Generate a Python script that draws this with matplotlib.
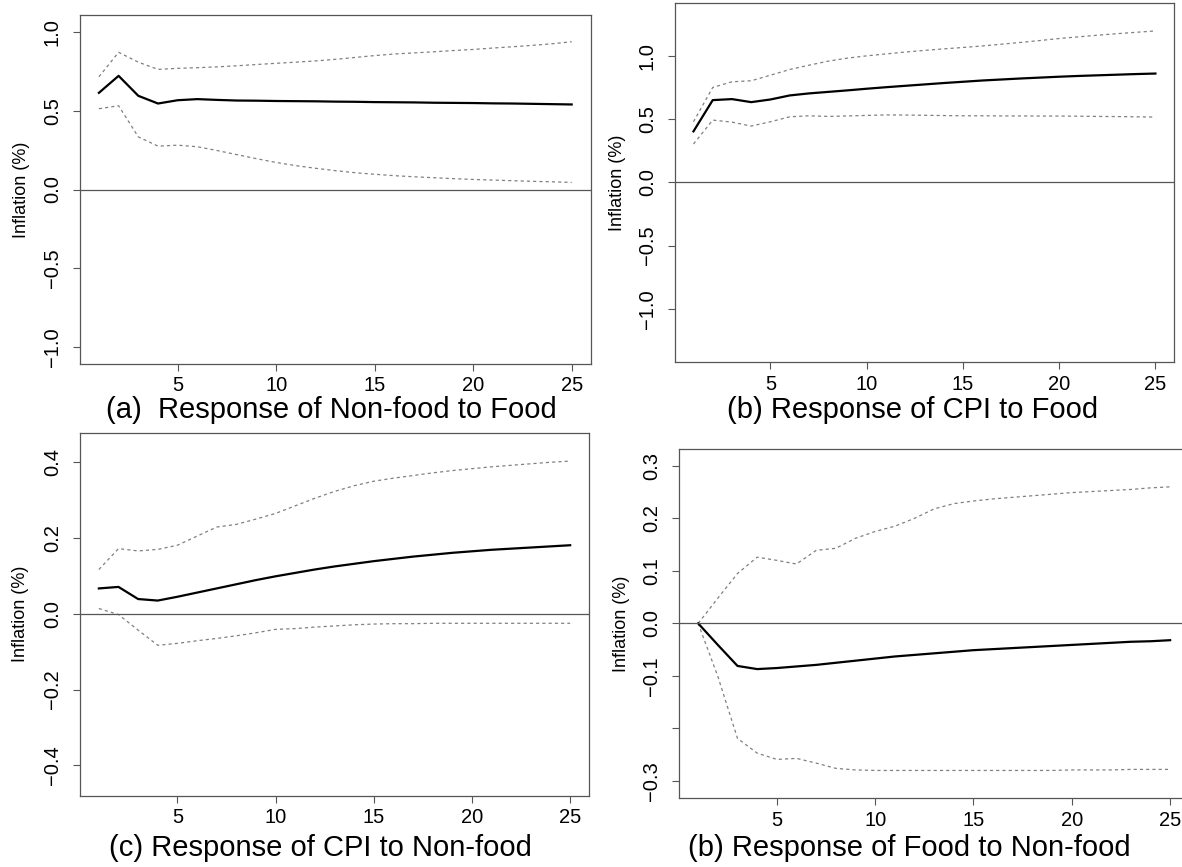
import matplotlib
matplotlib.use("Agg")
from matplotlib import pyplot as plt

plt.rcParams["font.family"] = ["Liberation Sans", "DejaVu Sans"]

W, H = 1182, 867
FRAME = "#555555"
BAND = "#808080"

horizon = list(range(1, 26))

a_mid = [0.615, 0.723, 0.596, 0.547, 0.568, 0.575, 0.570, 0.566, 0.565, 0.563, 0.562, 0.561, 0.559,
         0.558, 0.556, 0.555, 0.554, 0.552, 0.551, 0.550, 0.548, 0.547, 0.545, 0.543, 0.541]
a_hi = [0.717, 0.873, 0.810, 0.764, 0.771, 0.775, 0.780, 0.787, 0.795, 0.803, 0.810, 0.818, 0.828,
        0.840, 0.852, 0.862, 0.869, 0.876, 0.884, 0.891, 0.900, 0.908, 0.917, 0.927, 0.940]
a_lo = [0.514, 0.533, 0.335, 0.276, 0.282, 0.272, 0.248, 0.222, 0.196, 0.172, 0.152, 0.135, 0.120,
        0.107, 0.097, 0.088, 0.081, 0.075, 0.069, 0.064, 0.060, 0.056, 0.052, 0.049, 0.045]

b_mid = [0.403, 0.650, 0.658, 0.634, 0.655, 0.687, 0.703, 0.715, 0.727, 0.740, 0.752, 0.763, 0.774,
         0.785, 0.795, 0.805, 0.813, 0.821, 0.828, 0.835, 0.841, 0.846, 0.851, 0.856, 0.860]
b_hi = [0.479, 0.750, 0.795, 0.803, 0.847, 0.892, 0.926, 0.958, 0.982, 1.000, 1.015, 1.030, 1.043,
        1.055, 1.066, 1.078, 1.092, 1.106, 1.121, 1.137, 1.150, 1.163, 1.175, 1.186, 1.197]
b_lo = [0.303, 0.492, 0.476, 0.445, 0.479, 0.518, 0.526, 0.521, 0.525, 0.529, 0.533, 0.532, 0.530,
        0.528, 0.526, 0.526, 0.525, 0.525, 0.524, 0.524, 0.523, 0.521, 0.520, 0.518, 0.516]

c_mid = [0.067, 0.071, 0.039, 0.035, 0.045, 0.056, 0.067, 0.078, 0.089, 0.099, 0.108, 0.117, 0.125,
         0.132, 0.139, 0.145, 0.151, 0.156, 0.161, 0.165, 0.169, 0.172, 0.175, 0.178, 0.181]
c_hi = [0.117, 0.172, 0.166, 0.170, 0.181, 0.205, 0.229, 0.236, 0.250, 0.265, 0.285, 0.305, 0.323,
        0.338, 0.350, 0.358, 0.365, 0.372, 0.378, 0.383, 0.388, 0.392, 0.396, 0.400, 0.403]
c_lo = [0.014, -0.002, -0.043, -0.083, -0.078, -0.071, -0.065, -0.058, -0.050, -0.041, -0.039,
        -0.035, -0.032, -0.029, -0.027, -0.026, -0.026, -0.025, -0.025, -0.025, -0.025, -0.025,
        -0.025, -0.025, -0.025]

d_mid = [0.0, -0.041, -0.081, -0.087, -0.085, -0.082, -0.079, -0.075, -0.071, -0.067, -0.063,
         -0.060, -0.057, -0.054, -0.051, -0.049, -0.047, -0.045, -0.043, -0.041, -0.039, -0.037,
         -0.035, -0.034, -0.032]
d_hi = [0.0, 0.048, 0.095, 0.126, 0.120, 0.113, 0.139, 0.143, 0.162, 0.175, 0.185, 0.200, 0.218,
        0.228, 0.233, 0.237, 0.240, 0.243, 0.246, 0.249, 0.251, 0.253, 0.255, 0.258, 0.260]
d_lo = [0.0, -0.101, -0.219, -0.247, -0.259, -0.257, -0.266, -0.276, -0.279, -0.280, -0.280,
        -0.280, -0.280, -0.280, -0.280, -0.280, -0.280, -0.280, -0.280, -0.279, -0.279, -0.279,
        -0.278, -0.278, -0.278]

captions = ["(a)  Response of Non-food to Food", "(b) Response of CPI to Food",
            "(c) Response of CPI to Non-food", "(b) Response of Food to Non-food"]
yticks_ab = [-1.0, -0.5, 0.0, 0.5, 1.0]
yticks_c = [-0.4, -0.2, 0.0, 0.2, 0.4]
yticks_d = [-0.3, -0.2, -0.1, 0.0, 0.1, 0.2, 0.3]
ylabels_d = ["\u22120.3", "", "\u22120.1", "0.0", "0.1", "0.2", "0.3"]

# pixel boxes (left, right, top, bottom), y limits, caption centre
PANELS = [
    dict(box=(80, 590.6, 14.7, 364), ylim=(-1.11, 1.112), mid=a_mid, hi=a_hi, lo=a_lo,
         yticks=yticks_ab, ylabels=None, cap=(331, 410), ylab_x=22),
    dict(box=(675, 1173.9, 2.7, 362), ylim=(-1.42, 1.42), mid=b_mid, hi=b_hi, lo=b_lo,
         yticks=yticks_ab, ylabels=None, cap=(913, 410), ylab_x=617),
    dict(box=(80, 589, 432.7, 795.7), ylim=(-0.48, 0.478), mid=c_mid, hi=c_hi, lo=c_lo,
         yticks=yticks_c, ylabels=None, cap=(320, 848), ylab_x=21),
    dict(box=(679.3, 1189, 449, 798.3), ylim=(-0.333, 0.332), mid=d_mid, hi=d_hi, lo=d_lo,
         yticks=yticks_d, ylabels=ylabels_d, cap=(909, 848), ylab_x=621),
]

fig = plt.figure(figsize=(W / 100, H / 100), dpi=100)

for p, cap in zip(PANELS, captions):
    l, r, t, b = p["box"]
    ax = fig.add_axes([l / W, 1 - b / H, (r - l) / W, (b - t) / H])
    ax.plot(horizon, p["hi"], color=BAND, lw=0.9, dashes=(2.5, 2.5))
    ax.plot(horizon, p["lo"], color=BAND, lw=0.9, dashes=(2.5, 2.5))
    ax.plot(horizon, p["mid"], color="black", lw=1.6)
    ax.axhline(0, color=FRAME, lw=0.9)
    ax.set_xlim(0.04, 25.96)
    ax.set_ylim(*p["ylim"])
    ax.set_xticks([5, 10, 15, 20, 25])
    ax.set_yticks(p["yticks"])
    if p["ylabels"] is not None:
        ax.set_yticklabels(p["ylabels"])
    else:
        ax.set_yticklabels([f"{v:.1f}".replace("-", "\u2212") for v in p["yticks"]])
    for s in ax.spines.values():
        s.set_color(FRAME)
        s.set_linewidth(0.9)
    ax.tick_params(axis="both", length=5, width=0.8, color=FRAME, labelsize=14.5)
    ax.tick_params(axis="x", pad=4)
    ax.tick_params(axis="y", pad=8)
    for lab in ax.get_yticklabels():
        lab.set_rotation(90)
        lab.set_verticalalignment("center")
    fig.text(p["ylab_x"] / W, 1 - (t + b) / 2 / H, "Inflation (%)", rotation=90,
             ha="center", va="center", fontsize=13)
    fig.text(p["cap"][0] / W, 1 - p["cap"][1] / H, cap, ha="center", va="center", fontsize=21)

fig.savefig("out.png", dpi=100)
